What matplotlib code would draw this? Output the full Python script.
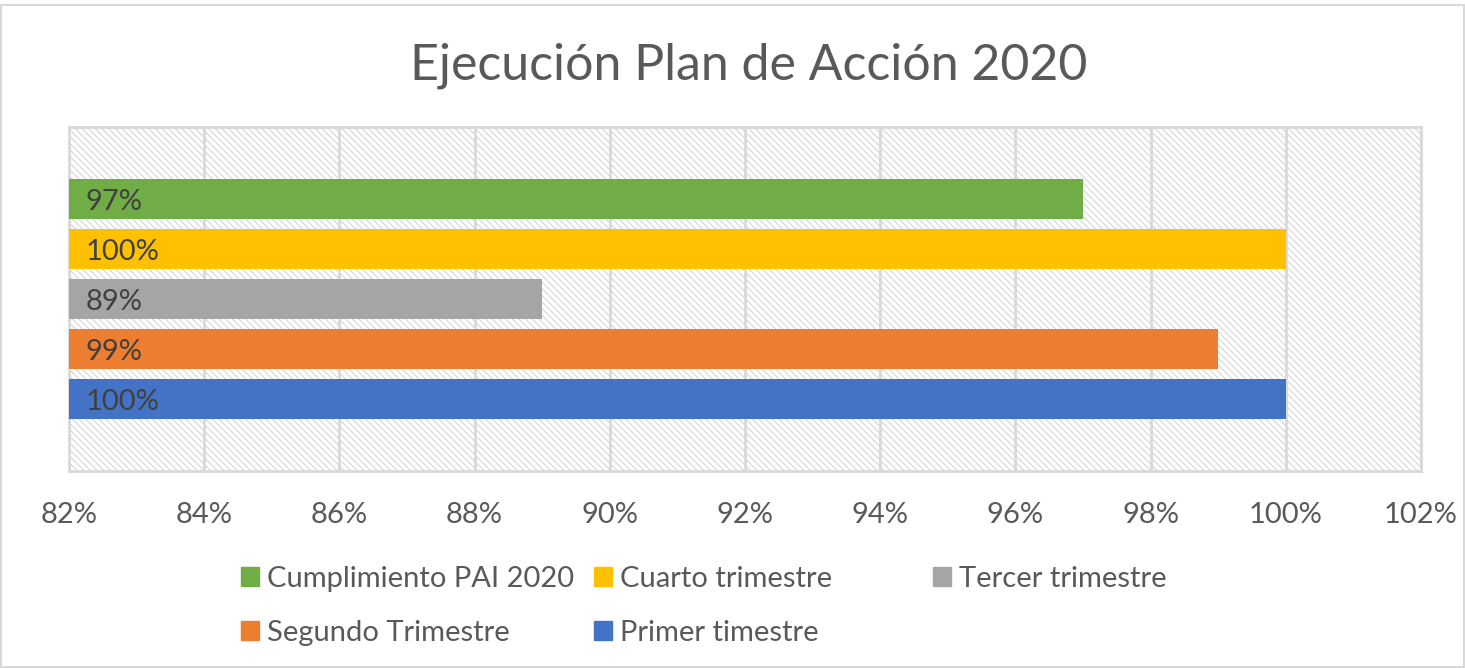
import matplotlib.pyplot as plt
from matplotlib.patches import Rectangle, Patch

# datos del grafico
series = ['Primer timestre', 'Segundo Trimestre', 'Tercer trimestre', 'Cuarto trimestre', 'Cumplimiento PAI 2020']
valores = [100, 99, 89, 100, 97]
colores = ['#4472C4', '#ED7D31', '#A5A5A5', '#FFC000', '#70AD47']
ticks = [82, 84, 86, 88, 90, 92, 94, 96, 98, 100, 102]

plt.rcParams['font.family'] = ['Lato', 'DejaVu Sans']
plt.rcParams['hatch.linewidth'] = 0.7

fig = plt.figure(figsize=(14.65, 6.68), dpi=100)
ax = fig.add_axes([69/1465, 1 - 471/668, (1421 - 69)/1465, (471 - 127)/668])

# fondo con trama
fondo = Rectangle((0, 0), 1, 1, transform=ax.transAxes, facecolor='white',
                  edgecolor='#d0d0d0', hatch='\\\\\\\\\\', lw=0, zorder=0)
ax.add_patch(fondo)

pos = list(range(len(valores)))
ax.barh(pos, valores, height=0.8, color=colores, zorder=3)
for p, v in zip(pos, valores):
    ax.text(82.24, p - 0.05, '{}%'.format(v), va='center', ha='left', fontsize=21, color='#404040', zorder=4)

ax.set_xlim(82, 102)
ax.set_ylim(-1.44, 5.44)
ax.set_xticks(ticks)
ax.set_xticklabels(['{}%'.format(t) for t in ticks], fontsize=21, color='#595959')
ax.set_yticks([])
ax.tick_params(axis='x', length=0, pad=22)
ax.grid(axis='x', color='#d9d9d9', lw=2, zorder=1)
for s in ax.spines.values():
    s.set_color('#d9d9d9')
    s.set_linewidth(2)

fig.text(0.511, 0.902, 'Ejecución Plan de Acción 2020', ha='center', va='center',
         fontsize=36, color='#595959')

# leyenda en tres columnas
columnas = [[4, 1], [3, 0], [2]]
xcol = [241/1465, 594/1465, 933/1465]
for c, x in zip(columnas, xcol):
    h = [Patch(color=colores[i]) for i in c]
    l = [series[i] for i in c]
    leg = fig.legend(h, l, loc='upper left', bbox_to_anchor=(x, 1 - 566/668), frameon=False,
                     fontsize=21, handlelength=0.62, handleheight=0.62, handletextpad=0.28,
                     labelspacing=0.95, borderpad=0, borderaxespad=0)
    for t in leg.get_texts():
        t.set_color('#595959')

fig.patches.append(Rectangle((0.001, 0.001), 0.998, 0.992, transform=fig.transFigure,
                             fill=False, edgecolor='#d9d9d9', lw=1.5))

fig.savefig('out.png', dpi=100)
